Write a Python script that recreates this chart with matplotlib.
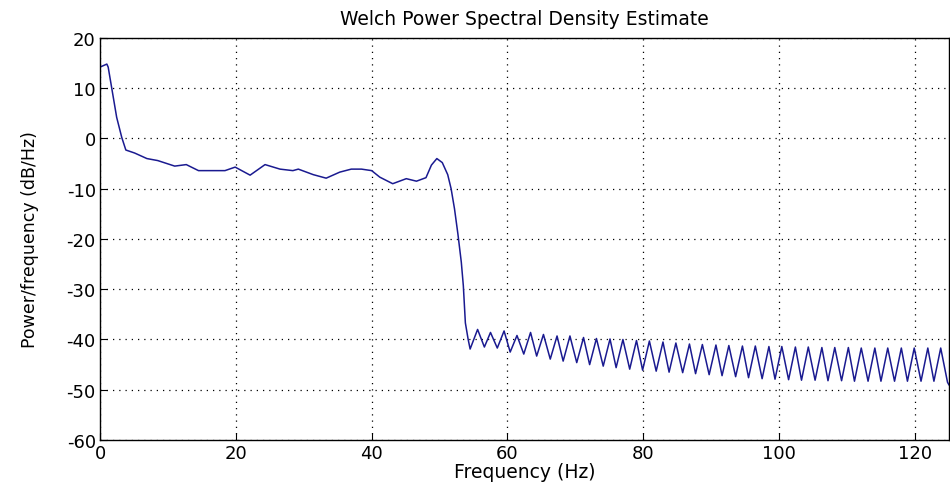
import matplotlib.pyplot as plt

# Passband part of the Welch PSD
pass_freq = [0.0, 1.0, 1.2, 1.7, 2.45, 3.2, 3.8, 5.1, 6.9, 8.5, 11.0, 12.7, 14.5,
             16.4, 18.4, 19.9, 22.1, 24.3, 26.5, 28.4, 29.2, 31.4, 33.3, 35.3,
             37.0, 38.5, 40.0, 41.2, 43.1, 45.1, 46.6, 48.0, 48.8, 49.6, 50.4,
             51.2, 51.7, 52.2, 52.7, 53.2, 53.5, 53.8, 54.2]
pass_db = [14.2, 14.8, 14.2, 10.2, 4.2, 0.2, -2.3, -2.9, -4.0, -4.4, -5.5, -5.2, -6.4,
           -6.4, -6.4, -5.7, -7.3, -5.2, -6.1, -6.4, -6.1, -7.2, -7.9, -6.7,
           -6.1, -6.1, -6.4, -7.7, -9.0, -8.0, -8.5, -7.8, -5.3, -4.0, -4.8,
           -7.2, -10.0, -14.0, -19.0, -24.6, -29.3, -36.7, -39.9]

# Stopband ripple: alternating troughs and peaks
stop_freq = [54.5, 55.6, 56.6, 57.5, 58.5, 59.5, 60.4, 61.4, 62.4, 63.4, 64.3, 65.3,
             66.3, 67.3, 68.2, 69.2, 70.2, 71.2, 72.1, 73.1, 74.1, 75.1, 76.0, 77.0,
             78.0, 79.0, 79.9, 80.9, 81.9, 82.9, 83.8, 84.8, 85.8, 86.8, 87.7, 88.7,
             89.7, 90.7, 91.6, 92.6, 93.6, 94.6, 95.5, 96.5, 97.5, 98.5, 99.4, 100.4,
             101.4, 102.4, 103.3, 104.3, 105.3, 106.3, 107.2, 108.2, 109.2, 110.2,
             111.1, 112.1, 113.1, 114.1, 115.0, 116.0, 117.0, 118.0, 118.9, 119.9,
             120.9, 121.9, 122.8, 123.8, 124.8, 125.0]
stop_db = [-41.9, -38.0, -41.5, -38.6, -41.7, -38.3, -42.5, -39.2, -42.9, -38.6, -43.3, -39.0,
           -43.9, -39.3, -44.3, -39.3, -44.6, -39.6, -45.0, -39.8, -45.3, -39.9, -45.6, -40.0,
           -45.9, -40.2, -46.1, -40.3, -46.3, -40.5, -46.5, -40.7, -46.6, -40.9, -46.8, -41.0,
           -47.0, -41.1, -47.2, -41.2, -47.4, -41.3, -47.6, -41.3, -47.8, -41.4, -47.9, -41.4,
           -48.0, -41.5, -48.1, -41.5, -48.1, -41.6, -48.2, -41.6, -48.2, -41.6,
           -48.3, -41.7, -48.3, -41.7, -48.3, -41.7, -48.3, -41.7, -48.3, -41.7,
           -48.3, -41.7, -48.3, -41.7, -48.5, -49.0]

freq = pass_freq + stop_freq
psd = pass_db + stop_db

plt.rcParams['font.family'] = ['DejaVu Sans']
plt.rcParams['axes.unicode_minus'] = False

fig = plt.figure(figsize=(9.5, 4.85), dpi=100, facecolor='white')
ax = fig.add_axes([0.1053, 0.0907, 0.8935, 0.829])

ax.plot(freq, psd, color='#1a1a90', linewidth=1.1)

ax.set_xlim(0, 125)
ax.set_ylim(-60, 20)
ax.set_xticks(range(0, 121, 20))
ax.set_yticks(range(-60, 21, 10))

ax.grid(True, color='black', linestyle=(0, (1, 4)), linewidth=0.9)
ax.tick_params(direction='in', length=5, labelsize=13, pad=3, color='black')
for sp in ax.spines.values():
    sp.set_linewidth(1.0)

ax.set_title('Welch Power Spectral Density Estimate', fontsize=13.5, pad=10)
ax.set_xlabel('Frequency (Hz)', fontsize=13.5, labelpad=0)
ax.set_ylabel('Power/frequency (dB/Hz)', fontsize=12.5, labelpad=20)

plt.savefig('out.png', dpi=100, facecolor='white')
plt.close()
